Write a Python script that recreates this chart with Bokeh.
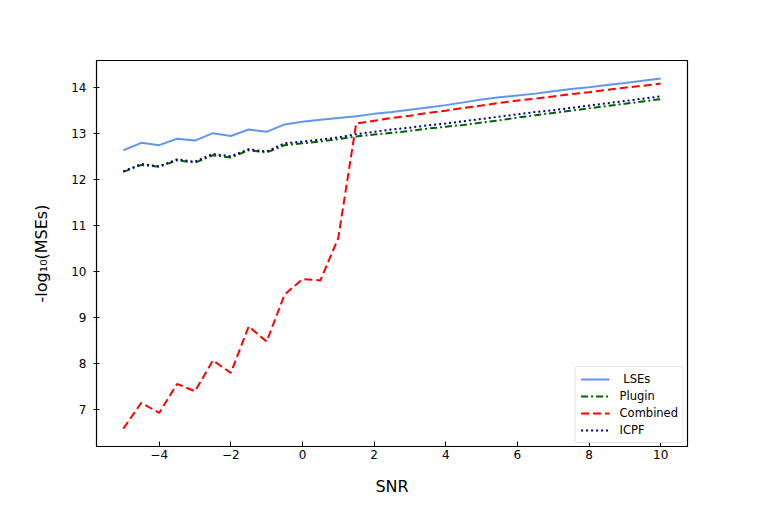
from bokeh.plotting import figure
from bokeh.models import Range1d, FixedTicker, Legend, LegendItem
from bokeh.embed import file_html
from bokeh.resources import INLINE

snr = [-5.0, -4.5, -4.0, -3.5, -3.0, -2.5, -2.0, -1.5, -1.0, -0.5, 0.0, 0.5, 1.0, 1.5,
       2.0, 2.5, 3.0, 3.5, 4.0, 4.5, 5.0, 5.5, 6.0, 6.5, 7.0, 7.5, 8.0, 8.5, 9.0, 9.5, 10.0]

lses = [12.63, 12.79, 12.74, 12.88, 12.84, 13.00, 12.94, 13.08, 13.03, 13.19, 13.25, 13.29, 13.33, 13.37,
        13.42, 13.46, 13.51, 13.56, 13.61, 13.67, 13.73, 13.78, 13.82, 13.86, 13.91, 13.96, 14.00, 14.05, 14.09, 14.14, 14.19]

plugin = [12.16, 12.31, 12.27, 12.41, 12.36, 12.52, 12.47, 12.63, 12.58, 12.74, 12.78, 12.82, 12.87, 12.93,
          12.97, 13.01, 13.05, 13.10, 13.14, 13.18, 13.23, 13.28, 13.34, 13.39, 13.44, 13.49, 13.54, 13.59, 13.64, 13.69, 13.74]

combined = [6.58, 7.14, 6.92, 7.55, 7.39, 8.06, 7.79, 8.80, 8.47, 9.49, 9.83, 9.80, 10.72, 13.21,
            13.27, 13.33, 13.38, 13.44, 13.49, 13.55, 13.60, 13.66, 13.71, 13.75, 13.80, 13.85, 13.89, 13.94, 13.99, 14.03, 14.08]

icpf = [12.17, 12.33, 12.28, 12.43, 12.38, 12.55, 12.50, 12.65, 12.60, 12.78, 12.82, 12.86, 12.91, 12.98,
        13.03, 13.08, 13.12, 13.17, 13.21, 13.26, 13.31, 13.36, 13.41, 13.46, 13.50, 13.55, 13.60, 13.65, 13.70, 13.75, 13.80]

x_ticks = [-4, -2, 0, 2, 4, 6, 8, 10]
y_ticks = [7, 8, 9, 10, 11, 12, 13, 14]

FONT = "DejaVu Sans"

p = figure(width=756, height=501, output_backend="svg", toolbar_location=None,
           x_range=Range1d(-5.75, 10.75), y_range=Range1d(6.19, 14.58),
           min_border_left=96, min_border_right=69, min_border_top=60, min_border_bottom=55)
p.background_fill_color = "white"
p.border_fill_color = "white"
p.outline_line_color = "black"
p.outline_line_width = 1.2
p.xgrid.visible = False
p.ygrid.visible = False

r1 = p.line(snr, lses, line_color="#6495ED", line_width=2)
r2 = p.line(snr, plugin, line_color="#006400", line_width=2, line_dash="7 3 2 3")
r3 = p.line(snr, combined, line_color="red", line_width=2, line_dash="8 4")
r4 = p.line(snr, icpf, line_color="#000080", line_width=2, line_dash="2 3")

xa = p.xaxis[0]
xa.ticker = FixedTicker(ticks=x_ticks)
xa.major_label_overrides = {t: (str(t).replace("-", "\u2212")) for t in x_ticks}
xa.major_tick_in = 5
xa.major_tick_out = 0
xa.minor_tick_line_color = None
xa.major_label_standoff = 3
xa.axis_label = "SNR"
xa.axis_label_standoff = 15
xa.axis_label_text_font = FONT
xa.axis_label_text_font_size = "16px"
xa.axis_label_text_font_style = "normal"
xa.axis_label_text_color = "black"
xa.major_label_text_font = FONT
xa.major_label_text_font_size = "12px"
xa.major_label_text_color = "black"
xa.axis_line_color = "black"
xa.major_tick_line_color = "black"

ya = p.yaxis[0]
ya.ticker = FixedTicker(ticks=y_ticks)
ya.major_tick_in = 3
ya.major_tick_out = 3
ya.minor_tick_line_color = None
ya.major_label_standoff = 7
ya.axis_label = "-log\u2081\u2080(MSEs)"
ya.axis_label_standoff = 17
ya.axis_label_text_font = FONT
ya.axis_label_text_font_size = "16px"
ya.axis_label_text_font_style = "normal"
ya.axis_label_text_color = "black"
ya.major_label_text_font = FONT
ya.major_label_text_font_size = "12px"
ya.major_label_text_color = "black"
ya.axis_line_color = "black"
ya.major_tick_line_color = "black"

legend = Legend(items=[
    LegendItem(label=" LSEs", renderers=[r1]),
    LegendItem(label="Plugin", renderers=[r2]),
    LegendItem(label="Combined", renderers=[r3]),
    LegendItem(label="ICPF", renderers=[r4]),
], location="bottom_right")
legend.margin = 3
legend.padding = 5
legend.spacing = 3
legend.glyph_width = 29
legend.glyph_height = 14
legend.label_height = 14
legend.label_standoff = 10
legend.label_text_font = FONT
legend.label_text_font_size = "11.5px"
legend.label_text_color = "black"
legend.border_line_color = "#cccccc"
legend.border_line_width = 1
legend.border_radius = 3
legend.background_fill_alpha = 0.8
p.add_layout(legend)

open("out.html", "w").write(file_html(p, INLINE))
